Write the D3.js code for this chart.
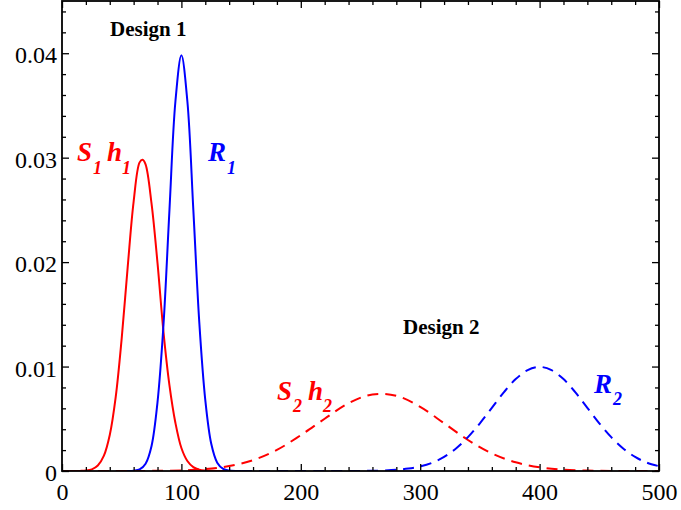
<!DOCTYPE html>
<html>
<head>
<meta charset="utf-8">
<script src="https://cdn.jsdelivr.net/npm/d3@7"></script>
<style>
  html, body { margin: 0; padding: 0; background: #fff; }
  svg { display: block; }
  text { font-family: "Liberation Serif", "Times New Roman", serif; }
</style>
</head>
<body>
<svg id="chart" width="681" height="510"></svg>
<script>
// ---- data ----
const xTicks = [0, 100, 200, 300, 400, 500];
const yTicks = [0, 0.01, 0.02, 0.03, 0.04];
const xTickLabels = ["0", "100", "200", "300", "400", "500"];
const yTickLabels = ["0", "0.01", "0.02", "0.03", "0.04"];

// S1 h1 (red, solid)
const s1h1X = [0, 10, 15, 20, 25, 30, 35, 40, 45, 50, 55, 60, 65, 67.5, 70, 75, 80, 85, 90, 95, 100, 105, 110, 115, 120, 130, 150];
const s1h1Y = [0, 0, 0.00001, 0.00004, 0.00016, 0.00052, 0.00144, 0.00345, 0.0071, 0.0127, 0.0195, 0.0258, 0.02955, 0.02980, 0.02935, 0.0256, 0.0199, 0.0133, 0.0082, 0.0046, 0.0022, 0.00096, 0.00037, 0.00012, 0.00004, 0, 0];

// R1 (blue, solid)
const r1X = [45, 55, 60, 65, 70, 75, 80, 85, 90, 95, 100, 105, 110, 115, 120, 125, 130, 135, 140, 150];
const r1Y = [0, 0, 0.00003, 0.00015, 0.0007, 0.0024, 0.0066, 0.0140, 0.0250, 0.0354, 0.0398, 0.0354, 0.0250, 0.0142, 0.0068, 0.0026, 0.0008, 0.0002, 0.00004, 0];

// S2 h2 (red, dashed)
const s2h2X = [0, 60, 100, 120, 140, 160, 180, 200, 220, 240, 260, 280, 300, 320, 340, 360, 380, 400, 420, 440, 460, 480, 500];
const s2h2Y = [0, 0.000005, 0.00006, 0.00018, 0.00047, 0.00104, 0.00202, 0.00343, 0.00500, 0.00650, 0.00733, 0.00720, 0.00614, 0.00457, 0.00297, 0.00168, 0.00083, 0.00036, 0.00013, 0.00004, 0.00001, 0, 0];

// R2 (blue, dashed)
const r2X = [150, 240, 250, 260, 270, 280, 290, 300, 310, 320, 330, 340, 350, 360, 370, 380, 390, 400, 410, 420, 430, 440, 450, 460, 470, 480, 490, 500];
const r2Y = [0, 0, 0.00001, 0.00002, 0.00005, 0.00011, 0.00023, 0.00044, 0.00079, 0.00135, 0.00216, 0.00324, 0.00457, 0.00605, 0.00753, 0.00880, 0.00966, 0.00997, 0.00966, 0.00880, 0.00753, 0.00605, 0.00457, 0.00324, 0.00216, 0.00135, 0.00079, 0.00046];

// ---- layout ----
const svg = d3.select("#chart");
const L = 62, R = 659, T = 1, B = 471;
const x = d3.scaleLinear().domain([0, 500]).range([L, R]);
const y = d3.scaleLinear().domain([0, 0.045]).range([B, T]);

const clipId = "plotclip";
svg.append("defs").append("clipPath").attr("id", clipId)
  .append("rect").attr("x", L).attr("y", T).attr("width", R - L).attr("height", B - T);

const line = d3.line().x(d => x(d[0])).y(d => y(d[1])).curve(d3.curveCatmullRom.alpha(0.5));
const zip = (a, b) => a.map((v, i) => [v, b[i]]);

const series = [
  { xs: s1h1X, ys: s1h1Y, color: "#ff0000", dash: null },
  { xs: r1X, ys: r1Y, color: "#0000ff", dash: null },
  { xs: s2h2X, ys: s2h2Y, color: "#ff0000", dash: "11,7" },
  { xs: r2X, ys: r2Y, color: "#0000ff", dash: "11,7" }
];
const g = svg.append("g").attr("clip-path", `url(#${clipId})`);
series.forEach(s => {
  g.append("path")
    .datum(zip(s.xs, s.ys))
    .attr("d", line)
    .attr("fill", "none")
    .attr("stroke", s.color)
    .attr("stroke-width", 2)
    .attr("stroke-dasharray", s.dash);
});

// ---- axes (ticks inward on all four sides) ----
const xMinor = d3.range(0, 501, 20).filter(v => v % 100 !== 0);
const yMinor = d3.range(0, 0.0451, 0.002).filter(v => Math.abs(v * 100 - Math.round(v * 100)) > 1e-6);
const MAJ = 7, MIN = 4;

function styleAxis(sel) {
  sel.select(".domain").remove();
  sel.selectAll(".tick line").attr("stroke", "#000").attr("stroke-width", 1.3);
}

// bottom
svg.append("g").attr("transform", `translate(0,${B})`)
  .call(d3.axisBottom(x).tickValues(xMinor).tickSize(-MIN).tickFormat(""))
  .call(styleAxis);
svg.append("g").attr("transform", `translate(0,${B})`)
  .call(d3.axisBottom(x).tickValues(xTicks).tickSize(-MAJ).tickPadding(0)
    .tickFormat((d, i) => xTickLabels[i]))
  .call(styleAxis)
  .call(a => a.selectAll("text").attr("y", 29).attr("dy", null)
    .attr("font-size", 24).attr("fill", "#000").attr("font-family", "Liberation Serif"));
// top
svg.append("g").attr("transform", `translate(0,${T})`)
  .call(d3.axisTop(x).tickValues(xMinor).tickSize(-MIN).tickFormat(""))
  .call(styleAxis);
svg.append("g").attr("transform", `translate(0,${T})`)
  .call(d3.axisTop(x).tickValues(xTicks).tickSize(-MAJ).tickFormat(""))
  .call(styleAxis);
// left
svg.append("g").attr("transform", `translate(${L},0)`)
  .call(d3.axisLeft(y).tickValues(yMinor).tickSize(-MIN).tickFormat(""))
  .call(styleAxis);
svg.append("g").attr("transform", `translate(${L},0)`)
  .call(d3.axisLeft(y).tickValues(yTicks).tickSize(-MAJ).tickPadding(0)
    .tickFormat((d, i) => yTickLabels[i]))
  .call(styleAxis)
  .call(a => a.selectAll("text").attr("x", -5).attr("dy", "0.4em")
    .attr("font-size", 24).attr("fill", "#000").attr("font-family", "Liberation Serif"));
// right
svg.append("g").attr("transform", `translate(${R},0)`)
  .call(d3.axisRight(y).tickValues(yMinor).tickSize(-MIN).tickFormat(""))
  .call(styleAxis);
svg.append("g").attr("transform", `translate(${R},0)`)
  .call(d3.axisRight(y).tickValues(yTicks).tickSize(-MAJ).tickFormat(""))
  .call(styleAxis);

// frame
svg.append("rect").attr("x", L).attr("y", T).attr("width", R - L).attr("height", B - T)
  .attr("fill", "none").attr("stroke", "#000").attr("stroke-width", 1.8);

// ---- annotations ----
svg.append("text").attr("x", 110).attr("y", 36).attr("font-size", 21).attr("font-weight", "bold")
  .attr("fill", "#000").text("Design 1");
svg.append("text").attr("x", 403).attr("y", 334).attr("font-size", 21).attr("font-weight", "bold")
  .attr("fill", "#000").text("Design 2");

function label(parts, color) {
  parts.forEach(p => {
    svg.append("text")
      .attr("x", p[0]).attr("y", p[1])
      .attr("font-size", p[3])
      .attr("font-weight", "bold").attr("font-style", "italic")
      .attr("fill", color).text(p[2]);
  });
}
label([[77, 161, "S", 27], [93, 174, "1", 18], [107, 161, "h", 27], [122, 174, "1", 18]], "#ff0000");
label([[208, 161, "R", 27], [227, 174, "1", 18]], "#0000ff");
label([[277, 400, "S", 27], [293, 412, "2", 18], [308, 400, "h", 27], [323, 412, "2", 18]], "#ff0000");
label([[594, 393, "R", 27], [613, 405, "2", 18]], "#0000ff");
</script>
</body>
</html>
